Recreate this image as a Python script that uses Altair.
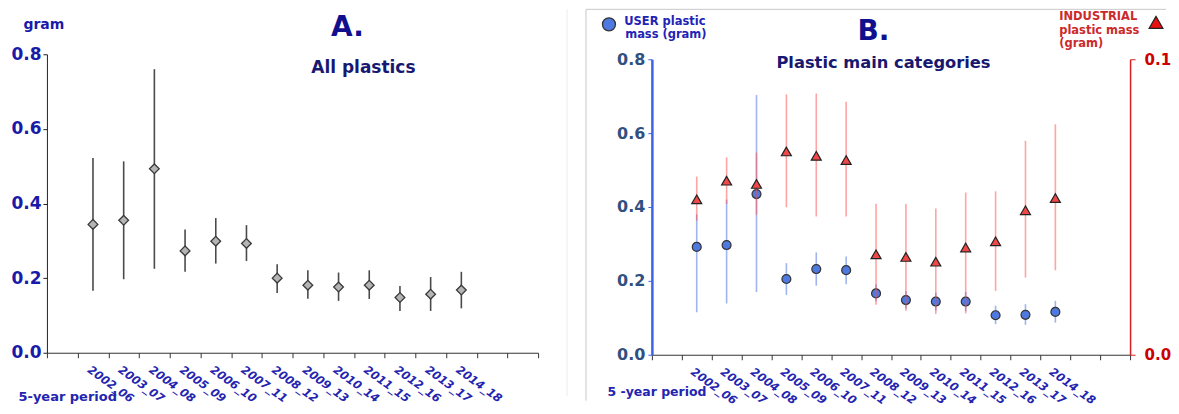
import json
import altair as alt
import pandas as pd

# ---------------- data ----------------
periods = ["2002_06", "2003_07", "2004_08", "2005_09", "2006_10", "2007_11", "2008_12",
           "2009_13", "2010_14", "2011_15", "2012_16", "2013_17", "2014_18"]

# Panel A: all plastics (gram)
all_mean = [0.344, 0.355, 0.493, 0.273, 0.299, 0.293, 0.200, 0.181, 0.176, 0.181, 0.148, 0.157, 0.168]
all_low = [0.166, 0.197, 0.225, 0.217, 0.239, 0.246, 0.160, 0.145, 0.139, 0.144, 0.112, 0.112, 0.119]
all_high = [0.522, 0.513, 0.760, 0.330, 0.361, 0.342, 0.237, 0.221, 0.215, 0.221, 0.179, 0.203, 0.217]

# Panel B: USER plastic mass (left axis, gram)
user_mean = [0.292, 0.297, 0.435, 0.205, 0.232, 0.229, 0.166, 0.148, 0.144, 0.144, 0.107, 0.108, 0.116]
user_low = [0.115, 0.139, 0.170, 0.162, 0.187, 0.191, 0.145, 0.125, 0.120, 0.118, 0.083, 0.081, 0.087]
user_high = [0.380, 0.420, 0.703, 0.248, 0.277, 0.266, 0.190, 0.172, 0.168, 0.170, 0.133, 0.137, 0.146]

# Panel B: INDUSTRIAL plastic mass (right axis, gram)
ind_mean = [0.0526, 0.0589, 0.0578, 0.0688, 0.0673, 0.0659, 0.0340, 0.0331, 0.0315, 0.0363, 0.0384, 0.0489, 0.0530]
ind_low = [0.0454, 0.0510, 0.0474, 0.0499, 0.0468, 0.0468, 0.0169, 0.0149, 0.0138, 0.0140, 0.0216, 0.0261, 0.0286]
ind_high = [0.0603, 0.0668, 0.0684, 0.0881, 0.0884, 0.0856, 0.0511, 0.0510, 0.0495, 0.0549, 0.0553, 0.0724, 0.0780]

# ---------------- styling ----------------
FONT = "DejaVu Sans"
NAVY = "#10108f"
NAVY2 = "#181870"
LBLUE = "#2424b0"
N_SLOTS = 16
pos = [i + 1.5 for i in range(len(periods))]
label_expr = json.dumps(periods) + "[datum.value - 1] || ''"

dfA = pd.DataFrame({"period": periods, "pos": pos, "mean": all_mean, "low": all_low, "high": all_high})
dfB = pd.DataFrame({"period": periods, "pos": pos,
                    "user_mean": user_mean, "user_low": user_low, "user_high": user_high,
                    "ind_mean": ind_mean, "ind_low": ind_low, "ind_high": ind_high})


def x_enc(title, title_x, title_y, offset, title_size):
    return alt.X(
        "pos:Q",
        scale=alt.Scale(domain=[0, N_SLOTS], nice=False, zero=False),
        axis=alt.Axis(
            values=list(range(N_SLOTS + 1)), labelExpr=label_expr,
            labelAngle=36, labelAlign="left", labelBaseline="top",
            labelOffset=offset, labelPadding=6, labelOverlap=False, labelFlush=False,
            labelBound=False, labelFont=FONT, labelFontSize=11.5, labelFontStyle="italic",
            labelFontWeight="bold", labelColor=LBLUE,
            tickSize=5, tickColor="#333333", domainColor="#333333", grid=False,
            title=title, titleX=title_x, titleY=title_y, titleAlign="left",
            titleBaseline="alphabetic", titleFont=FONT, titleFontSize=title_size,
            titleFontWeight="bold", titleColor=LBLUE,
        ),
    )


def text_mark(text, x, y, size, color, align="center"):
    return alt.Chart(pd.DataFrame({"t": [text]})).mark_text(
        font=FONT, fontSize=size, fontWeight="bold", color=color,
        align=align, baseline="alphabetic"
    ).encode(text="t:N", x=alt.value(x), y=alt.value(y))


def vline(x, y1, y2, color):
    return alt.Chart(pd.DataFrame({"a": [0]})).mark_rule(color=color, strokeWidth=1).encode(
        x=alt.value(x), y=alt.value(y1), y2=alt.value(y2))


# ---------------- panel A ----------------
scaleA = alt.Scale(domain=[0, 0.8], nice=False)
axisA = alt.Axis(values=[0, 0.2, 0.4, 0.6, 0.8], format=".1f", grid=False,
                 labelFont=FONT, labelFontSize=17, labelFontWeight="bold", labelColor="#1a1aa8",
                 labelPadding=2, tickSize=4, tickColor="#222222", domainColor="#222222",
                 title="gram", titleAngle=0, titleX=-24, titleY=-26, titleAlign="left",
                 titleBaseline="alphabetic", titleFont=FONT, titleFontSize=14,
                 titleFontWeight="bold", titleColor="#1a1aa8")
xA = x_enc("5-year period", -29, 48, 14, 13)

rulesA = alt.Chart(dfA).mark_rule(color="#4a4a4a", strokeWidth=1.6).encode(
    x=xA, y=alt.Y("low:Q", scale=scaleA, axis=axisA), y2="high:Q")
pointsA = alt.Chart(dfA).mark_point(shape="diamond", filled=True, fill="#b4b4b4",
                                    stroke="#3a3a3a", strokeWidth=1.3, size=95, opacity=1).encode(
    x=xA, y=alt.Y("mean:Q", scale=scaleA, axis=axisA))

panelA = alt.layer(
    vline(521, -45, 342, "#ebebeb"),
    rulesA, pointsA,
    text_mark("A.", 301, -18, 28, NAVY),
    text_mark("All plastics", 317, 19, 17, NAVY2),
).properties(width=492, height=299)

# ---------------- panel B ----------------
# plot group starts at the same top as panel A; the value range starts 5px lower
B_H = 301
B_TOP = 5
xB = x_enc("5 -year period", -45, 41, 13, 12.5)
scaleL = alt.Scale(domain=[0, 0.8], nice=False, range=[B_H, B_TOP])
axisL = alt.Axis(values=[0, 0.2, 0.4, 0.6, 0.8], format=".1f", grid=False, title=None,
                 labelFont=FONT, labelFontSize=16, labelFontWeight="bold", labelColor="#30507f",
                 labelPadding=3, tickSize=4, tickColor="#3f63e0", domainColor="#3f63e0",
                 domainWidth=2.5)
scaleR = alt.Scale(domain=[0, 0.1], nice=False, range=[B_H, B_TOP])
axisR = alt.Axis(orient="right", values=[0, 0.1], format=".1f", grid=False, title=None,
                 labelFont=FONT, labelFontSize=15, labelFontWeight="bold", labelColor="#cc0000",
                 labelPadding=9, tickSize=5, tickColor="#d42020", domainColor="#d42020",
                 domainWidth=1.5)

BLUE = "#4d79e0"
RED = "#f04848"

blue_group = alt.layer(
    alt.Chart(dfB).mark_rule(color="#4169e1", strokeWidth=1.6, opacity=0.5).encode(
        x=xB, y=alt.Y("user_low:Q", scale=scaleL, axis=axisL), y2="user_high:Q"),
    alt.Chart(dfB).mark_point(shape="circle", filled=True, fill=BLUE, stroke="#333333",
                              strokeWidth=1.2, size=80, opacity=1).encode(
        x=xB, y=alt.Y("user_mean:Q", scale=scaleL, axis=axisL)),
)
red_group = alt.layer(
    alt.Chart(dfB).mark_rule(color="#ff4a4a", strokeWidth=1.6, opacity=0.5).encode(
        x=xB, y=alt.Y("ind_low:Q", scale=scaleR, axis=axisR), y2="ind_high:Q"),
    alt.Chart(dfB).mark_point(shape="triangle-up", filled=True, fill=RED, stroke="#222222",
                              strokeWidth=1.2, size=100, opacity=1).encode(
        x=xB, y=alt.Y("ind_mean:Q", scale=scaleR, axis=axisR)),
)

legend_circle = alt.Chart(pd.DataFrame({"s": ["USER"]})).mark_point(
    shape="circle", filled=True, fill=BLUE, stroke="#333333", strokeWidth=1.3, size=170, opacity=1
).encode(x=alt.value(-43), y=alt.value(-30))
legend_tri = alt.Chart(pd.DataFrame({"s": ["INDUSTRIAL"]})).mark_point(
    shape="triangle-up", filled=True, fill="#e81010", stroke="#222222", strokeWidth=1.2, size=190, opacity=1
).encode(x=alt.value(505), y=alt.value(-32))

frame_top = alt.Chart(pd.DataFrame({"a": [0]})).mark_rule(color="#c8c8c8", strokeWidth=1).encode(
    x=alt.value(-66), x2=alt.value(515), y=alt.value(-45))

panelB = alt.layer(
    vline(-66, -45, 347, "#c8c8c8"),
    frame_top,
    blue_group,
    red_group,
    legend_circle,
    text_mark("USER plastic", 13, -29, 11.5, "#2323b5"),
    text_mark("mass (gram)", 14, -16, 11.5, "#2323b5"),
    legend_tri,
    text_mark("INDUSTRIAL", 408, -34, 11.5, "#cc2a2a", align="left"),
    text_mark("plastic mass", 408, -20.5, 11.5, "#cc2a2a", align="left"),
    text_mark("(gram)", 408, -7, 11.5, "#cc2a2a", align="left"),
    text_mark("B.", 222, -14, 28, NAVY),
    text_mark("Plastic main categories", 232, 14, 16.3, NAVY2),
).resolve_scale(y="independent").properties(width=479, height=B_H)

chart = alt.hconcat(panelA, panelB, spacing=17).configure_view(stroke=None).properties(
    padding={"left": 2, "top": 0, "right": 0, "bottom": 0})

chart.save("out.html", embed_options={"renderer": "svg", "actions": False})
